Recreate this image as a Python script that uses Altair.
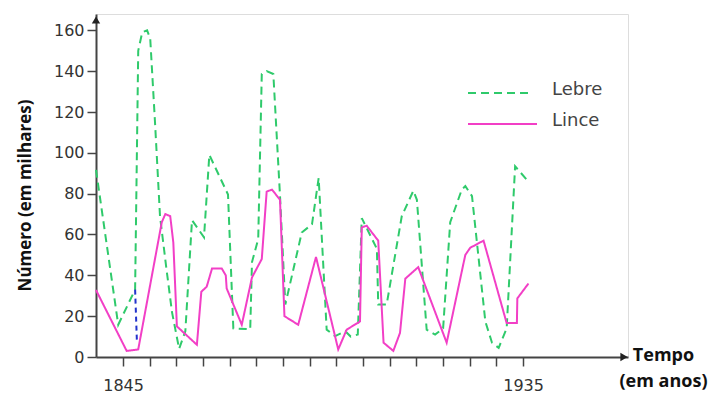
import altair as alt
import pandas as pd

# Lebre (hare) trace
lebre_anos = [1838.9, 1843.9, 1847.7, 1848.4, 1849.3, 1850.4, 1851.1, 1852.2, 1853.3, 1854.7,
              1856.0, 1857.6, 1859.0, 1860.5, 1863.2, 1864.4, 1868.6, 1869.8, 1873.6, 1874.0,
              1875.4, 1876.2, 1877.3, 1878.8, 1880.3, 1881.5, 1885.2, 1887.5, 1889.0, 1890.8,
              1892.7, 1895.0, 1896.2, 1897.8, 1898.7, 1902.1, 1902.4, 1904.3, 1907.7, 1910.3,
              1911.1, 1913.3, 1915.2, 1917.0, 1918.6, 1921.2, 1922.0, 1923.5, 1926.5, 1928.0,
              1929.5, 1931.3, 1933.2, 1935.8]
lebre_vals = [91.7, 15.8, 33, 150, 159, 160, 156, 114, 69, 44,
              22, 4, 12.6, 67, 58.6, 99, 79.6, 14, 13.6, 46.5,
              57.8, 138.6, 140, 138.6, 79, 25.7, 61, 65, 87.7, 13.4,
              10.2, 12.6, 10, 11, 68, 53, 25.7, 25.7, 69, 81.4,
              77, 13.4, 11, 14, 66, 82, 83.7, 78.8, 17.4, 7,
              4.5, 14, 93.4, 86.9]

# Lince (lynx) trace
lince_anos = [1838.9, 1845.8, 1848.4, 1853.7, 1854.5, 1855.6, 1856.3, 1857.1, 1861.6, 1862.6,
              1863.8, 1865.0, 1867.2, 1868.1, 1868.3, 1871.7, 1874.0, 1876.2, 1877.3, 1878.5,
              1880.3, 1881.3, 1884.4, 1888.4, 1893.4, 1895.3, 1898.3, 1898.7, 1899.8, 1902.4,
              1903.6, 1905.8, 1907.3, 1908.5, 1911.4, 1917.8, 1921.6, 1922.0, 1923.1, 1926.1,
              1931.3, 1933.6, 1933.7, 1936.2]
lince_vals = [32.8, 3, 3.7, 66, 70, 69, 56, 15, 6, 32,
              34.4, 43.3, 43.3, 40, 33.6, 15.8, 39, 48, 81, 82,
              77, 20, 15.8, 49, 3.7, 13.4, 17.4, 63.5, 64.3, 57,
              7, 3, 11.8, 38.4, 44, 7, 46, 50, 53.5, 57,
              16.6, 16.6, 28.7, 36]

# small blue dashed stroke in the original
azul_anos = [1847.7, 1848.1]
azul_vals = [33, 7.8]

series = ["Lebre", "Lince"]
cores = ["#2fca6b", "#f23fc6"]
tracos = [[8, 5], [1, 0]]
tick_anos = list(range(1845, 1936, 6))
tick_vals = [0, 20, 40, 60, 80, 100, 120, 140, 160]

rows = []
for i, (a, v) in enumerate(zip(lebre_anos, lebre_vals)):
    rows.append({"serie": "Lebre", "ano": a, "valor": v, "ordem": i})
for i, (a, v) in enumerate(zip(lince_anos, lince_vals)):
    rows.append({"serie": "Lince", "ano": a, "valor": v, "ordem": i})
df = pd.DataFrame(rows)
df_azul = pd.DataFrame({"ano": azul_anos, "valor": azul_vals, "ordem": [0, 1]})

FONT = "DejaVu Sans"
TFONT = "Open Sans"
xscale = alt.Scale(domain=[1838.9, 1958.6], nice=False, zero=False)
yscale = alt.Scale(domain=[0, 168], nice=False)

x_axis = alt.Axis(values=tick_anos, tickCount=40, format="d",
                  labelExpr="datum.value == 1845 || datum.value == 1935 ? datum.label : ''",
                  labelOverlap=False, labelBound=False, labelFlush=False,
                  grid=False, tickSize=9, tickWidth=1.5, tickColor="#444",
                  domainColor="#444", domainWidth=2,
                  labelFont=FONT, labelFontSize=16, labelColor="#333", labelPadding=11,
                  title=["Tempo", "(em anos)"], titleFont=TFONT, titleFontSize=18,
                  titleFontWeight="bold", titleColor="#111", titleX=567, titleY=-11,
                  titleAlign="center", titleBaseline="top", titleLineHeight=26)
y_axis = alt.Axis(values=tick_vals, tickCount=20, grid=False, tickSize=9, tickWidth=1.5,
                  tickColor="#444", domainColor="#444", domainWidth=2,
                  labelOverlap=False, labelFlush=False,
                  labelFont=FONT, labelFontSize=16, labelColor="#333", labelPadding=3,
                  title="Número (em milhares)", titleFont=TFONT, titleFontSize=17,
                  titleFontWeight="bold", titleColor="#111", titleAngle=270,
                  titleX=-71, titleY=181, titleAlign="center", titleBaseline="middle")

linhas = alt.Chart(df).mark_line(strokeWidth=2).encode(
    x=alt.X("ano:Q", scale=xscale, axis=x_axis),
    y=alt.Y("valor:Q", scale=yscale, axis=y_axis),
    color=alt.Color("serie:N", scale=alt.Scale(domain=series, range=cores), legend=None),
    strokeDash=alt.StrokeDash("serie:N", scale=alt.Scale(domain=series, range=tracos),
                              legend=None),
    order="ordem:Q",
)

azul = alt.Chart(df_azul).mark_line(strokeWidth=2, strokeDash=[5, 4], color="#2233cc").encode(
    x=alt.X("ano:Q", scale=xscale, axis=x_axis),
    y=alt.Y("valor:Q", scale=yscale, axis=y_axis),
    order="ordem:Q",
)

base1 = alt.Chart(pd.DataFrame({"k": [0]}))

# manual legend
legenda = []
for i, nome in enumerate(series):
    legenda.append(base1.mark_rule(strokeWidth=2, color=cores[i], strokeDash=tracos[i]).encode(
        x=alt.value(372), x2=alt.value(436 + 5 * i), y=alt.value(79 + 31 * i)))
    legenda.append(base1.mark_text(align="left", baseline="middle", font=FONT, fontSize=18,
                                   color="#444").encode(
        x=alt.value(456), y=alt.value(76 + 31 * i), text=alt.value(nome)))

seta_y = base1.mark_point(shape="triangle-up", filled=True, size=70, color="#222",
                          opacity=1).encode(x=alt.value(0), y=alt.value(6))
seta_x = base1.mark_point(shape="triangle-right", filled=True, size=70, color="#222",
                          opacity=1).encode(x=alt.value(528), y=alt.value(343))

chart = alt.layer(linhas, azul, *legenda, seta_y, seta_x).properties(
    width=532, height=343,
    autosize=alt.AutoSizeParams(type="none"),
    padding={"left": 88, "top": 6, "right": 90, "bottom": 40},
).configure_view(stroke=None).configure(background="white")

chart.save("out.html", embed_options={"renderer": "svg", "actions": False})
